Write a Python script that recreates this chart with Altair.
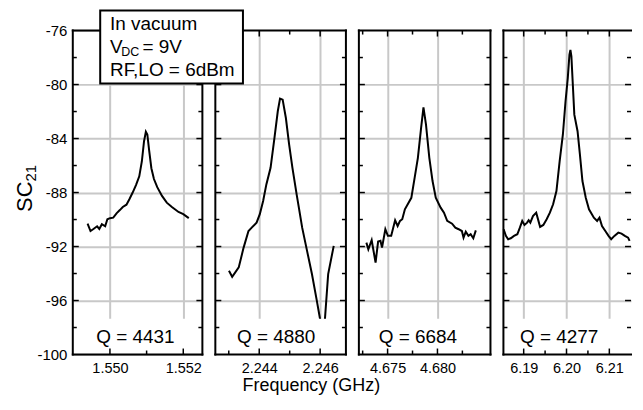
import altair as alt
import pandas as pd

FONT = "Liberation Sans"
GRID = "#c8c8c8"
H = 325

# ---- data (frequency in GHz, SC21 in dB) ----
f1 = [1.54939, 1.54947, 1.54955, 1.54965, 1.54971, 1.54978, 1.54987, 1.54993, 1.55000, 1.55009,
      1.55018, 1.55027, 1.55035, 1.55045, 1.55053, 1.55062, 1.55071, 1.55080, 1.55087, 1.55093,
      1.55098, 1.55102, 1.55107, 1.55113, 1.55120, 1.55129, 1.55142, 1.55155, 1.55169, 1.55187,
      1.55200, 1.55215]
s1 = [-90.3, -90.85, -90.7, -90.5, -90.7, -90.35, -90.5, -89.98, -89.9, -89.86,
      -89.54, -89.3, -89.07, -88.9, -88.5, -88.0, -87.45, -86.8, -85.7, -84.2,
      -83.5, -83.7, -84.9, -86.2, -87.0, -87.6, -88.25, -88.75, -89.07, -89.44,
      -89.6, -89.9]

f2 = [2.243006, 2.243112, 2.243327, 2.243487, 2.243647, 2.243753, 2.243913, 2.244019, 2.244128, 2.244234,
      2.244372, 2.244500, 2.244609, 2.244683, 2.244769, 2.244875, 2.244981, 2.245090, 2.245228, 2.245301,
      2.245410, 2.245570, 2.245730, 2.245890, 2.245997, 2.246077, 2.246157, 2.246263, 2.246446]
s2 = [-93.8, -94.24, -93.55, -92.08, -90.85, -90.6, -90.23, -89.6, -88.63, -87.4,
      -86.17, -83.95, -81.98, -81.04, -81.12, -82.48, -84.44, -86.17, -88.13, -89.12,
      -90.6, -92.32, -94.04, -96.01, -97.37, -98.5, -97.37, -94.04, -91.95]

f3 = [4.672873, 4.673069, 4.673403, 4.673795, 4.674049, 4.674285, 4.674441, 4.674775, 4.675029, 4.675363,
      4.675755, 4.676009, 4.676245, 4.676470, 4.676735, 4.677381, 4.677715, 4.678038, 4.678361, 4.678597,
      4.678851, 4.679185, 4.679508, 4.679831, 4.680321, 4.680655, 4.680978, 4.681468, 4.681791, 4.682125,
      4.682448, 4.682615, 4.682840, 4.683105, 4.683330, 4.683595, 4.683849]
s3 = [-91.71, -92.2, -91.53, -93.19, -91.63, -91.58, -92.08, -90.72, -91.21, -91.21,
      -90.06, -90.48, -90.1, -89.98, -89.24, -88.39, -86.9, -85.43, -83.21, -81.69,
      -82.97, -85.43, -87.15, -88.39, -89.12, -89.49, -90.1, -90.31, -90.6, -90.72,
      -90.85, -91.34, -90.9, -91.21, -91.09, -91.39, -90.8]

f4 = [6.185320, 6.185845, 6.186370, 6.186987, 6.187740, 6.188516, 6.189110, 6.189658, 6.190183, 6.190799,
      6.191165, 6.191553, 6.192169, 6.192923, 6.193448, 6.193836, 6.194589, 6.195365, 6.196119, 6.196872,
      6.197648, 6.198402, 6.199155, 6.199772, 6.200297, 6.200685, 6.200913, 6.201142, 6.201438, 6.201826,
      6.202580, 6.203128, 6.203721, 6.204498, 6.205251, 6.206392, 6.207146, 6.207694, 6.208287, 6.209064,
      6.209817, 6.210433, 6.211187, 6.212100, 6.212853, 6.213629, 6.214383, 6.214730]
s4 = [-90.72, -91.21, -91.46, -91.39, -91.21, -91.09, -90.6, -90.1, -90.4, -90.23,
      -90.05, -90.23, -89.74, -89.49, -90.1, -90.55, -90.4, -89.98, -89.49, -88.87,
      -87.89, -85.67, -83.7, -81.24, -79.52, -77.79, -77.43, -77.92, -79.77, -82.23,
      -83.46, -85.18, -87.15, -88.39, -89.24, -89.86, -90.1, -89.86, -90.48, -90.85,
      -91.21, -91.46, -91.21, -90.97, -91.04, -91.21, -91.34, -91.58]

q_labels = ["Q = 4431", "Q = 4880", "Q = 6684", "Q = 4277"]
x_domains = [[1.548987, 1.552521], [2.242559, 2.246846], [4.672121, 4.685316], [6.185267, 6.215064]]
x_major = [[1.550, 1.552], [2.244, 2.246], [4.675, 4.680], [6.19, 6.20, 6.21]]
x_minor = [[1.551], [2.243, 2.245], [4.6725, 4.6775, 4.6825], [6.195, 6.205]]
x_formats = [".3f", ".3f", ".3f", ".2f"]
y_labels = [-100, -96, -92, -88, -84, -80, -76]
y_grid = [-96, -92, -88, -84, -80]
y_minor = [-98, -94, -90, -86, -82, -78]
legend_lines = ["In vacuum", "V", "DC", "= 9V", "RF,LO = 6dBm"]
x_title = "Frequency (GHz)"
y_title = ["SC", "21"]

# ---- layout (pixels) ----
widths = [130, 131, 132, 128]
q_x = [62.8, 61, 59.2, 55.9]

ONE = pd.DataFrame({"k": [0]})
YS = alt.Scale(domain=[-100, -76], nice=False, zero=False)


def text(t, x, y, size, **kw):
    return alt.Chart(ONE).mark_text(text=t, font=FONT, fontSize=size, color="black", **kw).encode(
        x=alt.value(x), y=alt.value(y))


def hrule(x0, x1, y, width=2):
    return alt.Chart(ONE).mark_rule(color="black", strokeWidth=width, strokeCap="square").encode(
        x=alt.value(x0), x2=alt.value(x1), y=alt.value(y))


def vrule(x, y0, y1, width=2):
    return alt.Chart(ONE).mark_rule(color="black", strokeWidth=width, strokeCap="square").encode(
        x=alt.value(x), y=alt.value(y0), y2=alt.value(y1))


def panel(i):
    w = widths[i]
    xs = alt.Scale(domain=x_domains[i], nice=False, zero=False)
    df = pd.DataFrame({"f": [f1, f2, f3, f4][i], "s": [s1, s2, s3, s4][i]})
    xaxis = alt.Axis(values=x_major[i], format=x_formats[i], title=None, grid=True, gridColor=GRID,
                     gridWidth=2, ticks=False, domain=False, labelFont=FONT, labelFontSize=14.5,
                     labelColor="black", labelPadding=7, zindex=0)
    if i == 0:
        yaxis = alt.Axis(values=y_labels, labelExpr="'' + datum.value", title=None, grid=True,
                         gridColor=GRID, gridWidth=2, ticks=False, domain=False, labelFont=FONT,
                         labelFontSize=15, labelColor="black", labelPadding=6, zindex=0)
    else:
        yaxis = alt.Axis(values=y_grid, labels=False, title=None, grid=True, gridColor=GRID,
                         gridWidth=2, ticks=False, domain=False, zindex=0)
    layers = []
    layers.append(alt.Chart(df).mark_line(color="black", strokeWidth=2).encode(
        x=alt.X("f:Q", scale=xs, axis=xaxis), y=alt.Y("s:Q", scale=YS, axis=yaxis)))
    # white band behind Q label
    layers.append(alt.Chart(ONE).mark_rect(fill="white").encode(
        x=alt.value(1), x2=alt.value(w - 1), y=alt.value(289), y2=alt.value(H - 1)))
    # inward ticks
    for vals, ln in ((y_grid, 6), (y_minor, 4)):
        d = pd.DataFrame({"s": vals})
        layers.append(alt.Chart(d).mark_rule(color="black", strokeWidth=1.5).encode(
            y=alt.Y("s:Q", scale=YS, axis=yaxis), x=alt.value(0), x2=alt.value(ln)))
        layers.append(alt.Chart(d).mark_rule(color="black", strokeWidth=1.5).encode(
            y=alt.Y("s:Q", scale=YS, axis=yaxis), x=alt.value(w - ln), x2=alt.value(w)))
    for vals, ln in ((x_major[i], 6), (x_minor[i], 4)):
        d = pd.DataFrame({"f": vals})
        layers.append(alt.Chart(d).mark_rule(color="black", strokeWidth=1.5).encode(
            x=alt.X("f:Q", scale=xs, axis=xaxis), y=alt.value(H - ln), y2=alt.value(H)))
        layers.append(alt.Chart(d).mark_rule(color="black", strokeWidth=1.5).encode(
            x=alt.X("f:Q", scale=xs, axis=xaxis), y=alt.value(0), y2=alt.value(ln)))
    layers.append(text(q_labels[i], q_x[i], 313, 19, align="center", baseline="alphabetic"))
    # frame
    layers.append(hrule(0, w, 0))
    layers.append(hrule(0, w, H))
    layers.append(vrule(0, 0, H))
    if i < 3:
        layers.append(vrule(w, 0, H))
    if i == 0:
        layers.append(text(y_title[0], -41, 182, 22, angle=270, align="left", baseline="alphabetic"))
        layers.append(text(y_title[1], -37, 151.5, 15, angle=270, align="left", baseline="alphabetic"))
        layers.append(alt.Chart(ONE).mark_rect(opacity=0).encode(
            x=alt.value(-64), x2=alt.value(-63), y=alt.value(100), y2=alt.value(101)))
    if i == 1:
        layers.append(alt.Chart(ONE).mark_rect(fill="white", stroke="black", strokeWidth=2).encode(
            x=alt.value(-115.5), x2=alt.value(27.7), y=alt.value(-20), y2=alt.value(53)))
        layers.append(text(legend_lines[0], -105.7, -1, 19, align="left", baseline="alphabetic"))
        layers.append(text(legend_lines[1], -105.7, 22.7, 19, align="left", baseline="alphabetic"))
        layers.append(text(legend_lines[2], -94.3, 26, 12.5, align="left", baseline="alphabetic"))
        layers.append(text(legend_lines[3], -73.1, 22.7, 19, align="left", baseline="alphabetic"))
        layers.append(text(legend_lines[4], -105.7, 46, 19, align="left", baseline="alphabetic"))
        layers.append(text(x_title, 96.3, 361.5, 18, align="center", baseline="alphabetic"))
    return alt.layer(*layers).properties(width=w, height=H)


PAD = {"left": 0, "top": 0, "right": 0, "bottom": 0}
chart = alt.hconcat(*[panel(i) for i in range(4)], spacing=13, bounds="flush",
                    padding=PAD).configure_view(stroke="transparent")

chart.save("out.html", embed_options={"renderer": "svg", "actions": False})
